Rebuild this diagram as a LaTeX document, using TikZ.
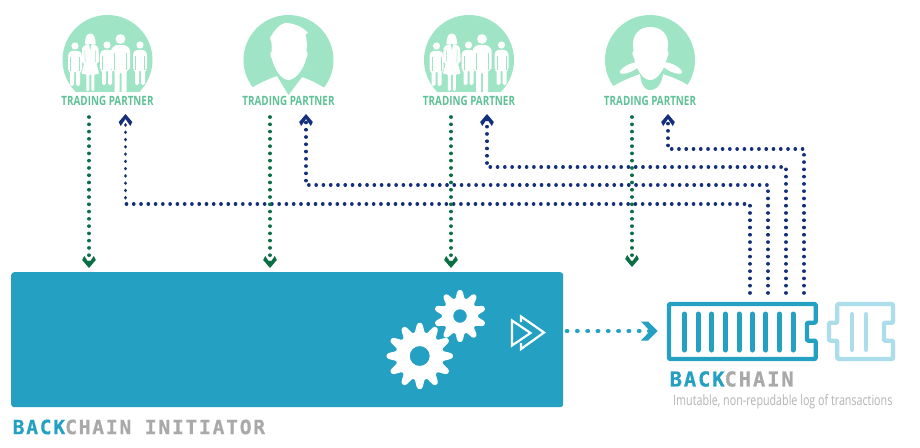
\documentclass[tikz,border=0pt]{standalone}
\usepackage{fontspec}
\usetikzlibrary{arrows.meta}
\setmainfont{Open Sans}
\newfontfamily\tpfont[FakeStretch=0.77]{Open Sans}
\newfontfamily\subfont[FakeStretch=0.75]{Open Sans}
\newfontfamily\techfont[LetterSpace=9,FakeBold=0.6]{DejaVu Sans Mono}
\definecolor{mint}{HTML}{9FE5C5}
\definecolor{mintdark}{HTML}{5FC297}
\definecolor{flowgreen}{HTML}{0B6F45}
\definecolor{flowblue}{HTML}{14307C}
\definecolor{teal}{HTML}{23A0C2}
\definecolor{lightteal}{HTML}{ABDDEA}
\definecolor{techgray}{HTML}{A9A9A9}
\definecolor{subgray}{HTML}{B3B3B3}
\pgfdeclarearrow{
  name=ChevSmall,
  cache=false,
  setup code={
    \pgfarrowssettipend{0pt}
    \pgfarrowssetlineend{-4.5pt}
    \pgfarrowssetvisualbackend{-12pt}
    \pgfarrowssetbackend{-12pt}
    \pgfarrowshullpoint{0pt}{0pt}
    \pgfarrowsupperhullpoint{-12pt}{6.8pt}
  },
  drawing code={
    \pgfsetfillcolor{pgfstrokecolor}
    \pgfpathmoveto{\pgfqpoint{0pt}{0pt}}
    \pgfpathlineto{\pgfqpoint{-8pt}{6.8pt}}
    \pgfpathlineto{\pgfqpoint{-12pt}{4.8pt}}
    \pgfpathlineto{\pgfqpoint{-5pt}{0pt}}
    \pgfpathlineto{\pgfqpoint{-12pt}{-4.8pt}}
    \pgfpathlineto{\pgfqpoint{-8pt}{-6.8pt}}
    \pgfpathclose
    \pgfusepathqfill
  }
}
\pgfdeclarearrow{
  name=ChevLarge,
  cache=false,
  setup code={
    \pgfarrowssettipend{0pt}
    \pgfarrowssetlineend{-8pt}
    \pgfarrowssetvisualbackend{-16.5pt}
    \pgfarrowssetbackend{-16.5pt}
    \pgfarrowshullpoint{0pt}{0pt}
    \pgfarrowsupperhullpoint{-16.5pt}{9.5pt}
  },
  drawing code={
    \pgfsetfillcolor{pgfstrokecolor}
    \pgfpathmoveto{\pgfqpoint{0pt}{0pt}}
    \pgfpathlineto{\pgfqpoint{-9.5pt}{9.5pt}}
    \pgfpathlineto{\pgfqpoint{-16.5pt}{9.5pt}}
    \pgfpathlineto{\pgfqpoint{-7.5pt}{0pt}}
    \pgfpathlineto{\pgfqpoint{-16.5pt}{-9.5pt}}
    \pgfpathlineto{\pgfqpoint{-9.5pt}{-9.5pt}}
    \pgfpathclose
    \pgfusepathqfill
  }
}
\tikzset{
  flowline/.style={line width=3.6pt,line cap=round,dash pattern=on 0.1pt off 7.17pt,-{ChevSmall}},
  greenflow/.style={flowline,draw=flowgreen},
  blueflow/.style={flowline,draw=flowblue},
  tealflow/.style={line width=4.8pt,line cap=round,dash pattern=on 0.1pt off 10.2pt,draw=teal,-{ChevLarge}},
  tplabel/.style={text=mintdark,font=\tpfont\bfseries\fontsize{12.8}{14}\selectfont,inner sep=0pt,anchor=center},
  techlabel/.style={font=\techfont\bfseries,inner sep=0pt,anchor=west},
  sublabel/.style={text=subgray,font=\subfont\fontsize{14.3}{16}\selectfont,inner sep=0pt,anchor=west},
  figure/.style={fill=white,draw=none},
  barstyle/.style={line width=5pt,line cap=round},
  blockline/.style={line width=4.3pt,line join=round,rounded corners=1pt},
}
\newcommand{\smallperson}[3]{%
  \begin{scope}[shift={(#1,#2)},scale=#3]
    \fill[figure] (0,0) circle (3.6);
    \fill[figure,rounded corners=1.6pt] (-4,4.8)--(4,4.8)--(7,8)--(7,25)--(5,25)--(5,40)--(1,40)--(1,25)--(-1,25)--(-1,40)--(-5,40)--(-5,25)--(-7,25)--(-7,8)--cycle;
    \draw[mint,line width=.5pt] (-4.6,11)--(-4.6,25) (4.6,11)--(4.6,25);
  \end{scope}}
\newcommand{\womanfig}[1]{%
  \begin{scope}[shift={(#1,0)}]
    \fill[figure] (0,33.5) .. controls (4,33.5) and (5,38) .. (5.5,44) -- (-5.5,44) .. controls (-5,38) and (-4,33.5) .. (0,33.5);
    \fill[figure,rounded corners=1.2pt] (-3,44)--(3,44)--(8,47)--(9,62)--(6,63)--(9,74)--(4,74)--(4,91)--(1,91)--(1,74)--(-1,74)--(-1,91)--(-4,91)--(-4,74)--(-9,74)--(-6,63)--(-9,62)--(-8,47)--cycle;
    \draw[mint,line width=.5pt] (-5.5,50)--(-5,62) (5.5,50)--(5,62);
    \fill[mint] (-1.2,44) -- (1.2,44) -- (0,50) -- cycle;
  \end{scope}}
\newcommand{\groupicon}[1]{%
  \begin{scope}[shift={(#1,0)}]
    \begin{scope}
      \clip (40,0) rectangle (180,91);
      \fill[mint] (107.5,60) circle (45);
      \smallperson{75}{46}{1}
      \womanfig{90.3}
      \smallperson{107}{45}{1}
      \begin{scope}[shift={(120.5,39)}]
        \fill[figure] (0,0) circle (4.9);
        \fill[figure,rounded corners=1.6pt] (-5,6)--(5,6)--(9.5,10)--(9.5,31)--(6,31)--(6,54)--(1,54)--(1,33)--(-1,33)--(-1,54)--(-6,54)--(-6,31)--(-9.5,31)--(-9.5,10)--cycle;
        \draw[mint,line width=.5pt] (-6,14)--(-6,31) (6,14)--(6,31);
      \end{scope}
      \smallperson{140}{45}{1}
    \end{scope}
  \end{scope}}
\newcommand{\gearshape}[6]{%
  plot[domain=0:360,samples=361] ({#1+(#3+#4*(cos(#5*\x)-0.08*cos(3*#5*\x)))*sin(\x)},{#2-(#3+#4*(cos(#5*\x)-0.08*cos(3*#5*\x)))*cos(\x)}) -- cycle (#1,#2) circle (#6)}
\begin{document}
\begin{tikzpicture}[x=1pt,y=-1pt]
\useasboundingbox (0,0) rectangle (920,447);
\fill[white] (0,0) rectangle (920,447);

% --- group icons
\groupicon{0}
\groupicon{361.5}

% --- single person, second column
\begin{scope}
  \clip (240,0) -- (340,0) -- (340,90) -- (323,87) .. controls (315,82) and (308,79) .. (302,77) -- (288.5,95) -- (277,76) .. controls (268,79) and (260,83) .. (253,87) -- (240,90) -- cycle;
  \fill[mint] (288.5,60) circle (45);
\end{scope}
\fill[figure] (285,23) .. controls (294,23) and (303,27) .. (308,33) .. controls (307,33) and (306,33) .. (305.5,34)
  .. controls (307,39) and (307,46) .. (306.5,52) .. controls (308,52) and (308,56) .. (306,59)
  .. controls (304,68) and (296,80) .. (288.5,80) .. controls (281,80) and (274,68) .. (272,59)
  .. controls (270,56) and (270,52) .. (271.5,52) .. controls (272,46) and (272,42) .. (270,38)
  .. controls (274,31) and (278,25) .. (285,23) -- cycle;

% --- single person, fourth column
\begin{scope}
  \clip (600,0) -- (700,0) -- (700,90) -- (688,85) .. controls (680,80) and (672,77) .. (663,74) .. controls (662,82) and (658,90) .. (650,90) .. controls (643,90) and (641,82) .. (640,74) .. controls (631,77) and (622,81) .. (613,86) -- (600,90) -- cycle;
  \fill[mint] (650,60) circle (45);
\end{scope}
\fill[figure] (650,27) .. controls (661,27) and (668,34) .. (668,44) -- (667.5,51) .. controls (669,52) and (669,56) .. (667,58)
  .. controls (665,68) and (658,80) .. (650,80) .. controls (642,80) and (636,68) .. (634,58)
  .. controls (632,56) and (632,52) .. (633.5,51) -- (633,44) .. controls (633,34) and (640,27) .. (650,27) -- cycle;
\fill[figure,rotate around={25:(630,68)}] (630,68) ellipse (11 and 3.8);
\fill[figure,rotate around={-25:(672,68)}] (672,68) ellipse (11 and 3.8);

% --- labels
\node[tplabel] (tp1) at (107.5,100.5) {TRADING PARTNER};
\node[tplabel] (tp2) at (288.5,100.5) {TRADING PARTNER};
\node[tplabel] (tp3) at (469,100.5) {TRADING PARTNER};
\node[tplabel] (tp4) at (650,100.5) {TRADING PARTNER};

% --- initiator box
\node[fill=teal,rounded corners=3pt,minimum width=552pt,minimum height=135pt,inner sep=0pt,anchor=north west] (initiator) at (11,272) {};

% --- gears and chevrons
\fill[white,even odd rule] \gearshape{419.7}{356}{28.5}{5}{12}{10};
\fill[white,even odd rule] \gearshape{460}{316}{22}{4.3}{10}{6.8};
\draw[white,line width=2.2pt,line join=miter] (512,320.5)--(512,345.5)--(530.5,333)--cycle;
\draw[white,line width=2.2pt,line join=miter] (521,322)--(521,316.5)--(544,332.5)--(521,349)--(521,343);

% --- chain block
\draw[teal,blockline] (669,304) -- (815.7,304) -- (815.7,322.7) -- (807,322.7) -- (807,340.7) -- (815.7,340.7) -- (815.7,359) -- (669,359) -- cycle;
\foreach \bx in {684.3,698,711.7,725.3,739,752.3,765.7,779.3,793}
  \draw[teal,barstyle] (\bx,314) -- (\bx,350);
\draw[lightteal,blockline] (837.3,304) -- (893,304) -- (893,322.7) -- (884,322.7) -- (884,340.7) -- (893,340.7) -- (893,359) -- (837.3,359) -- (837.3,340.7) -- (829,340.7) -- (829,322.7) -- (837.3,322.7) -- cycle;
\foreach \bx in {852,866}
  \draw[lightteal,line width=4pt,line cap=round] (\bx,314) -- (\bx,350);

% --- text labels
\node[techlabel,font=\techfont\bfseries\fontsize{20.5}{24}\selectfont] (bc) at (669.5,379) {\textcolor{teal}{BACK}\textcolor{techgray}{CHAIN}};
\node[sublabel] (imut) at (673,402) {Imutable, non-repudable log of transactions};
\node[techlabel,font=\techfont\bfseries\fontsize{19.6}{24}\selectfont] (bi) at (12.5,427) {\textcolor{teal}{BACK}\textcolor{techgray}{CHAIN INITIATOR}};

% --- connector ends
\foreach \n/\gx/\gy in {1/89/268,2/270/268,3/451/268,4/632/267}{
  \coordinate (gs\n) at (\gx,117);
  \coordinate (ge\n) at (\gx,\gy);
}
\foreach \n/\gx/\gy/\sx in {1/125.5/204/750,2/306/185/768,3/487/167/786,4/668/149/804}{
  \coordinate (bs\n) at (\sx,293);
  \coordinate (bh\n) at (\sx,\gy);
  \coordinate (bv\n) at (\gx,\gy);
  \coordinate (be\n) at (\gx,114);
}
\coordinate (ts) at (567,331);
\coordinate (te) at (657.5,331);

\foreach \n in {1,...,4}{
  \draw[greenflow] (gs\n) -- (ge\n);
  \draw[blueflow] (bs\n) -- (bh\n) -- (bv\n) -- (be\n);
}
\draw[tealflow] (ts) -- (te);
\end{tikzpicture}
\end{document}
